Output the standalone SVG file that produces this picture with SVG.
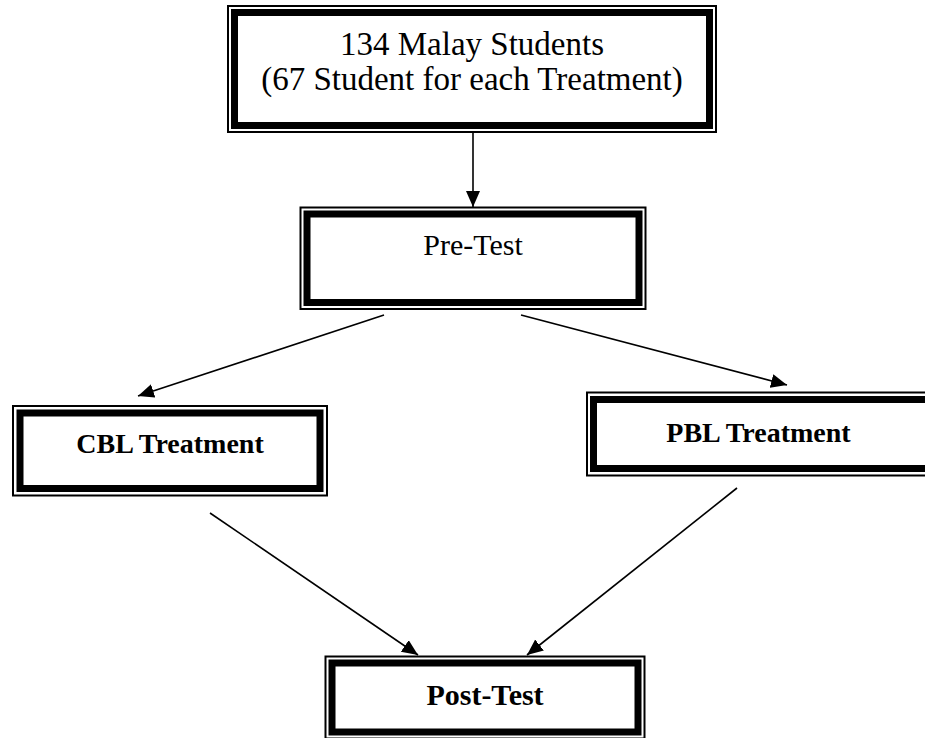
<svg xmlns="http://www.w3.org/2000/svg" width="925" height="738" viewBox="0 0 925 738">
<style>
.bg{fill:#fff}
.thin{fill:none;stroke:#000;stroke-width:2}
.thick{fill:none;stroke:#000;stroke-width:7}
.t{font-family:"Liberation Serif","Times New Roman",serif;fill:#000;text-anchor:middle}
.b{font-weight:bold}
.c{stroke:#000;stroke-width:1.6;fill:none;marker-end:url(#ah)}
</style>
<defs>
<marker id="ah" markerUnits="userSpaceOnUse" markerWidth="18" markerHeight="15" refX="16" refY="7" orient="auto">
<path d="M0,0 L16,7 L0,14 z" fill="#000"/>
</marker>
</defs>
<rect class="bg" x="0" y="0" width="925" height="738"/>
<g id="connectors">
<line class="c" x1="473" y1="133" x2="473" y2="207"/>
<line class="c" x1="384" y1="315" x2="138" y2="396"/>
<line class="c" x1="521" y1="315" x2="787" y2="385"/>
<line class="c" x1="210" y1="513" x2="418" y2="655"/>
<line class="c" x1="737" y1="488" x2="527" y2="655"/>
</g>
<g id="students">
<rect class="thin" x="228" y="6" width="488" height="126"/>
<rect class="thick" x="234.5" y="12.5" width="475" height="113"/>
<text class="t" x="472" y="55" font-size="33">134 Malay Students</text>
<text class="t" x="472" y="90" font-size="33">(67 Student for each Treatment)</text>
</g>
<g id="pretest">
<rect class="thin" x="300.5" y="207.5" width="345" height="101.5"/>
<rect class="thick" x="307" y="214" width="332" height="88.5"/>
<text class="t" x="473" y="255" font-size="30">Pre-Test</text>
</g>
<g id="cbl">
<rect class="thin" x="13" y="406" width="314" height="89.5"/>
<rect class="thick" x="20" y="413" width="300" height="75.5"/>
<text class="t b" x="170" y="453" font-size="28">CBL Treatment</text>
</g>
<g id="pbl">
<rect class="thin" x="587" y="392.5" width="360" height="83"/>
<rect class="thick" x="593.5" y="399.5" width="347" height="69"/>
<text class="t b" x="758.5" y="442" font-size="28">PBL Treatment</text>
</g>
<g id="posttest">
<rect class="thin" x="325.5" y="656.5" width="319" height="82"/>
<rect class="thick" x="332" y="663" width="306" height="69"/>
<text class="t b" x="485" y="705" font-size="30">Post-Test</text>
</g>
</svg>
